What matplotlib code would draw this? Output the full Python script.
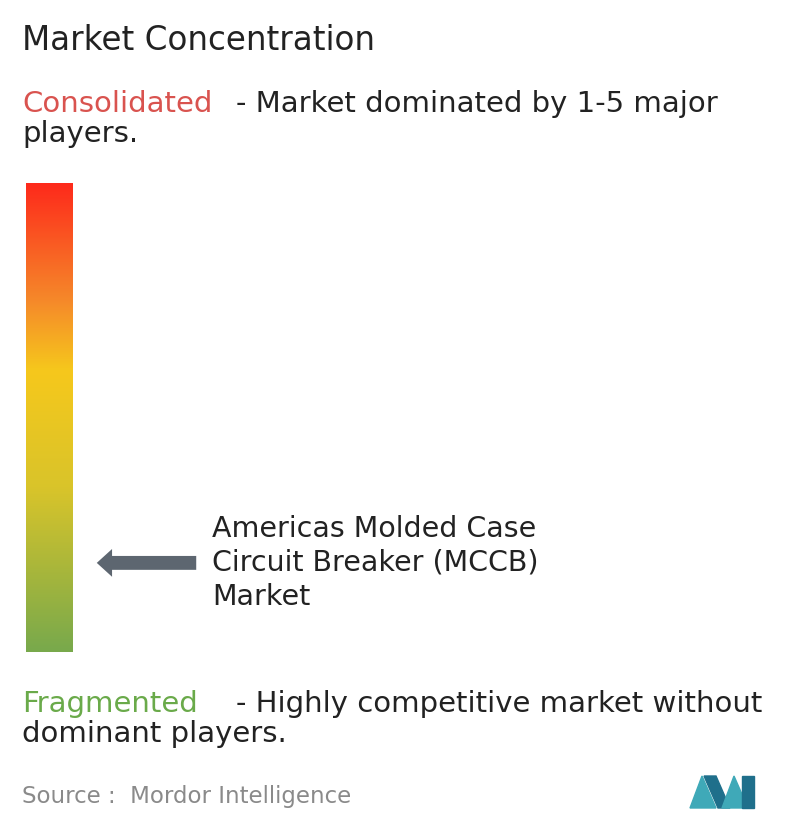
import matplotlib
matplotlib.use("Agg")
import matplotlib.pyplot as plt
import numpy as np
from matplotlib.colors import LinearSegmentedColormap

# gradient stops (position from bottom, colour)
stop_pos = [0.0, 0.35, 0.6, 0.75, 1.0]
stop_colors = ["#78a94c", "#d9c42a", "#f6c81c", "#f5892a", "#fe2a1b"]
market_level = 0.19  # where the arrow points, fraction of bar height
market_name = "Americas Molded Case\nCircuit Breaker (MCCB)\nMarket"
title = "Market Concentration"
source = "Source :  Mordor Intelligence"

fig = plt.figure(figsize=(7.96, 8.34), dpi=100)
ax = fig.add_axes([0, 0, 1, 1])
ax.set_xlim(0, 796)
ax.set_ylim(834, 0)
ax.axis("off")

cmap = LinearSegmentedColormap.from_list("conc", list(zip(stop_pos, stop_colors)))
grad = np.linspace(1, 0, 256).reshape(-1, 1)
bar_top, bar_bot = 183, 652
ax.imshow(grad, cmap=cmap, aspect="auto", extent=(26, 73, bar_bot, bar_top), vmin=0, vmax=1)

y_arrow = bar_bot - market_level * (bar_bot - bar_top)
ax.annotate("", xy=(94, y_arrow), xytext=(199, y_arrow),
            arrowprops=dict(arrowstyle="simple,head_length=1.1,head_width=2.0,tail_width=1.0",
                            color="#5d6670", lw=0))

font = "DejaVu Sans"
ax.text(22, 40, title, fontsize=23.5, va="center", family=font, color="#222222")
ax.text(22, 104, "Consolidated", fontsize=21, va="center", color="#d9534f", family=font)
ax.text(236, 104, "- Market dominated by 1-5 major", fontsize=21, va="center", color="#222222", family=font)
ax.text(22, 134, "players.", fontsize=21, va="center", color="#222222", family=font)
ax.text(212, 563, market_name, fontsize=20.5, va="center", color="#222222", family=font, linespacing=1.28)
ax.text(22, 704, "Fragmented", fontsize=21, va="center", color="#6aaa4a", family=font)
ax.text(236, 704, "- Highly competitive market without", fontsize=21, va="center", color="#222222", family=font)
ax.text(22, 734, "dominant players.", fontsize=21, va="center", color="#222222", family=font)
ax.text(22, 796, source, fontsize=16.5, va="center", color="#8a8a8a", family=font)

# logo
teal = "#3fa9b8"
dark = "#1f6f8b"
ax.fill([690, 702, 716, 704], [808, 776, 808, 808], color=teal)
ax.fill([704, 716, 730, 718], [776, 776, 808, 808], color=dark)
ax.fill([722, 734, 748, 736], [808, 776, 808, 808], color=teal)
ax.fill([742, 754, 754, 742], [776, 776, 808, 808], color=dark)

fig.savefig("out.png", dpi=100)
